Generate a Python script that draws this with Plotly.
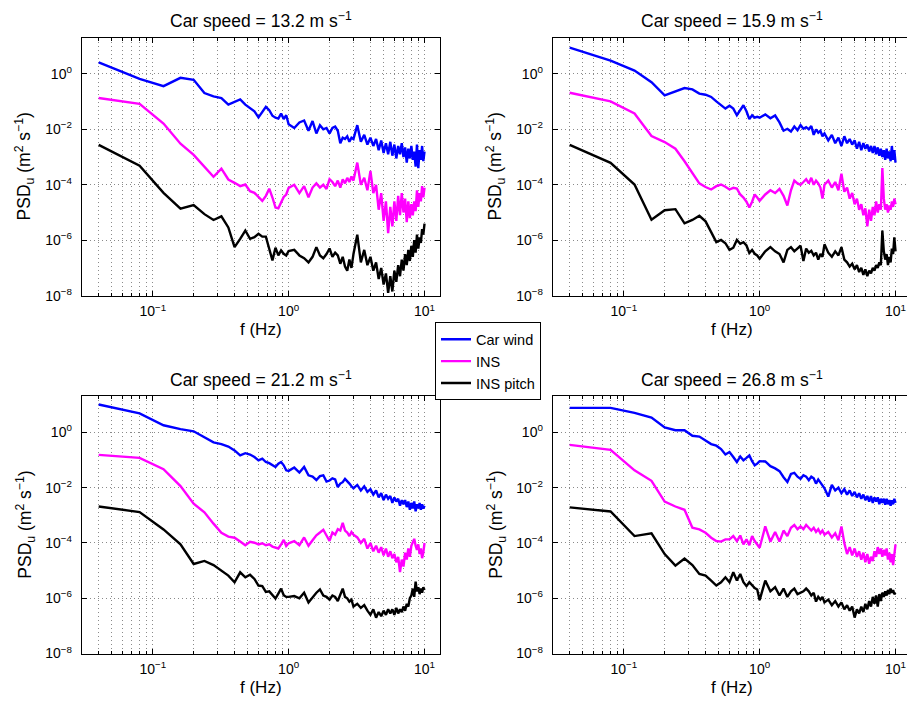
import numpy as np
import plotly.graph_objects as go

# ---------------- data ----------------
freq_hz = [0.04, 0.08, 0.12, 0.16, 0.20, 0.24, 0.28, 0.32, 0.36, 0.40, 0.44, 0.48, 0.52,
           0.56, 0.60, 0.64, 0.68, 0.72, 0.76, 0.80, 0.84, 0.88, 0.92, 0.96, 1.00,
           1.1, 1.2, 1.3, 1.4, 1.5, 1.6, 1.7, 1.8, 1.9, 2.0, 2.1, 2.2, 2.3, 2.4, 2.5,
           2.6, 2.7, 2.8, 2.9, 3.0,
           3.2, 3.4, 3.6, 3.8, 4.0, 4.2, 4.4, 4.6, 4.8, 5.0, 5.2, 5.4, 5.6, 5.8, 6.0,
           6.2, 6.4, 6.6, 6.8, 7.0, 7.2, 7.4, 7.6, 7.8, 8.0, 8.2, 8.4, 8.6, 8.8, 9.0,
           9.2, 9.4, 9.6, 9.8, 10.0]

panel_titles = ["Car speed = 13.2 m s<sup>−1</sup>", "Car speed = 15.9 m s<sup>−1</sup>",
                "Car speed = 21.2 m s<sup>−1</sup>", "Car speed = 26.8 m s<sup>−1</sup>"]
series_names = ["Car wind", "INS", "INS pitch"]
x_label = "f (Hz)"
y_label = "PSD<sub>u</sub> (m<sup>2</sup> s<sup>−1</sup>)"
x_tick_vals = [0.1, 1, 10]
x_tick_text = ["10<sup>−1</sup>", "10<sup>0</sup>", "10<sup>1</sup>"]
x_minor_vals = [0.03, 0.04, 0.05, 0.06, 0.07, 0.08, 0.09, 0.2, 0.3, 0.4, 0.5, 0.6, 0.7,
                0.8, 0.9, 2, 3, 4, 5, 6, 7, 8, 9]
y_tick_vals = [1e-8, 1e-6, 1e-4, 1e-2, 1]
y_tick_text = ["10<sup>−8</sup>", "10<sup>−6</sup>", "10<sup>−4</sup>", "10<sup>−2</sup>", "10<sup>0</sup>"]

# log10 of PSD values
car_13_2_log10 = [0.42, -0.18, -0.44, -0.14, -0.21, -0.69, -0.81, -0.87, -1.11, -1.01, -0.92, -1.11, -1.25,
                  -1.35, -1.57, -1.35, -1.19, -1.31, -1.51, -1.58, -1.61, -1.43, -1.63, -1.49, -1.82,
                  -1.95, -1.75, -1.68, -2.05, -1.70, -2.15, -1.85, -2.00, -1.95, -2.15, -1.95, -1.90, -2.05, -2.50, -2.30,
                  -2.35, -2.25, -2.45, -2.30, -2.35,
                  -1.85, -2.45, -2.20, -2.55, -2.30, -2.60, -2.35, -2.75, -2.40, -2.85, -2.50, -2.90, -2.45, -2.95, -2.55,
                  -3.05, -2.60, -2.90, -2.50, -3.00, -2.65, -3.20, -2.70, -3.05, -2.60, -3.10, -2.80, -3.35, -2.55, -3.40,
                  -2.75, -3.10, -2.60, -3.15, -2.80]
ins_13_2_log10 = [-0.87, -1.08, -1.79, -2.52, -2.92, -3.33, -3.71, -3.42, -3.81, -3.93, -4.05, -3.99, -4.23,
                  -4.29, -4.43, -4.58, -4.40, -4.14, -4.46, -4.82, -4.85, -4.61, -4.44, -4.35, -4.11,
                  -4.00, -4.30, -4.05, -4.45, -4.10, -3.95, -4.10, -4.00, -4.15, -3.80, -3.90, -4.05, -3.85, -4.10, -3.80,
                  -3.95, -3.75, -3.90, -3.70, -3.85,
                  -3.20, -4.00, -3.75, -4.20, -3.50, -4.30, -4.00, -4.90, -4.30, -5.30, -4.60, -5.75, -4.80, -5.50, -4.60,
                  -5.30, -4.40, -5.10, -4.30, -5.00, -4.50, -5.35, -4.60, -5.20, -4.70, -5.10, -4.60, -4.95, -4.20, -4.80,
                  -4.30, -4.60, -4.05, -4.45, -4.10]
pitch_13_2_log10 = [-2.56, -3.31, -4.29, -4.86, -4.73, -5.06, -5.27, -5.14, -5.54, -6.25, -5.95, -5.65, -5.95,
                    -5.89, -5.77, -5.87, -5.87, -6.31, -6.73, -6.27, -6.55, -6.37, -6.49, -6.55, -6.39,
                    -6.35, -6.55, -6.65, -6.80, -6.60, -6.25, -6.55, -6.65, -6.50, -6.30, -6.60, -6.45, -6.55, -6.85, -6.60,
                    -6.95, -7.10, -6.70, -7.00, -6.50,
                    -5.80, -6.80, -6.35, -6.90, -6.60, -7.10, -6.80, -7.40, -7.00, -7.60, -7.20, -7.90, -7.30, -7.85, -7.10,
                    -7.50, -6.90, -7.30, -6.70, -7.10, -6.50, -6.90, -6.35, -6.75, -6.20, -6.60, -6.00, -6.45, -5.80, -6.30,
                    -5.90, -6.10, -5.60, -5.80, -5.40]

car_15_9_log10 = [0.95, 0.48, 0.12, -0.30, -0.77, -0.63, -0.51, -0.56, -0.71, -0.75, -0.83, -0.99, -1.11,
                  -1.25, -1.15, -1.25, -1.49, -1.31, -1.13, -1.35, -1.63, -1.49, -1.58, -1.55, -1.58,
                  -1.46, -1.60, -1.50, -1.75, -2.05, -1.98, -2.08, -1.90, -2.03, -1.85, -1.98, -1.92, -2.00, -1.88, -2.20,
                  -2.00, -2.12, -2.05, -2.25, -2.15,
                  -2.40, -2.20, -2.50, -2.30, -2.60, -2.25, -2.50, -2.35, -2.55, -2.40, -2.70, -2.45, -2.75, -2.50, -2.70,
                  -2.55, -2.80, -2.60, -2.85, -2.60, -2.90, -2.65, -2.95, -2.70, -3.00, -2.75, -3.10, -2.70, -3.05, -2.80,
                  -3.15, -2.60, -3.10, -2.75, -3.20]
ins_15_9_log10 = [-0.68, -0.99, -1.43, -2.24, -2.46, -2.70, -3.15, -3.57, -3.95, -4.08, -4.17, -4.05, -3.99,
                  -4.07, -4.17, -4.11, -4.14, -4.35, -4.46, -4.61, -4.82, -4.61, -4.35, -4.46, -4.58,
                  -4.35, -4.20, -4.30, -4.15, -4.40, -4.75, -4.20, -3.85, -3.95, -4.00, -3.90, -3.80, -3.95, -3.75, -4.00,
                  -3.85, -3.95, -4.10, -4.50, -4.00,
                  -3.85, -4.10, -3.90, -4.20, -3.60, -4.25, -4.10, -4.50, -4.30, -4.70, -4.50, -4.90, -4.70, -5.10, -4.85,
                  -5.50, -4.90, -5.30, -4.80, -5.10, -4.60, -5.00, -4.70, -4.90, -3.40, -4.50, -4.90, -4.70, -5.00, -4.75,
                  -4.90, -4.60, -4.80, -4.50, -4.70]
pitch_15_9_log10 = [-2.56, -3.21, -3.99, -5.26, -4.92, -4.88, -5.39, -5.27, -5.12, -5.32, -5.71, -6.07, -5.99,
                    -6.11, -6.35, -6.27, -5.99, -6.13, -6.07, -6.19, -6.46, -6.35, -6.49, -6.55, -6.67,
                    -6.40, -6.25, -6.40, -6.50, -6.80, -6.35, -6.25, -6.40, -6.30, -6.20, -6.75, -6.30, -6.45, -6.38, -6.55,
                    -6.45, -6.70, -6.50, -6.60, -6.15,
                    -6.45, -6.60, -6.40, -6.55, -6.25, -6.70, -6.80, -6.95, -6.85, -7.05, -6.90, -7.15, -7.00, -7.25, -7.05,
                    -7.30, -7.10, -7.20, -7.00, -7.10, -6.90, -7.00, -6.80, -6.90, -5.65, -6.40, -6.70, -6.50, -6.90, -6.60,
                    -6.80, -6.30, -6.50, -5.90, -6.40]

car_21_2_log10 = [1.01, 0.69, 0.26, 0.12, 0.04, -0.18, -0.36, -0.42, -0.51, -0.65, -0.83, -0.75, -0.80,
                  -0.89, -1.01, -0.95, -1.07, -1.11, -1.19, -1.25, -1.13, -1.07, -1.19, -1.37, -1.39,
                  -1.27, -1.45, -1.25, -1.55, -1.60, -1.72, -1.58, -1.55, -1.78, -1.74, -1.66, -1.70, -1.98, -1.85, -1.80,
                  -1.68, -1.75, -1.85, -1.95, -2.02,
                  -1.90, -2.10, -1.95, -2.15, -2.05, -2.25, -2.10, -2.35, -2.20, -2.45, -2.25, -2.40, -2.30, -2.55, -2.35,
                  -2.50, -2.40, -2.65, -2.45, -2.60, -2.45, -2.70, -2.50, -2.80, -2.55, -2.75, -2.50, -2.85, -2.60, -2.75,
                  -2.55, -2.80, -2.60, -2.75, -2.65]
ins_21_2_log10 = [-0.81, -0.92, -1.33, -1.94, -2.58, -2.89, -3.30, -3.63, -3.77, -3.81, -3.95, -4.08, -3.96,
                  -3.99, -4.05, -4.01, -4.08, -4.05, -4.13, -4.17, -4.20, -4.05, -3.89, -4.11, -4.01,
                  -3.93, -4.08, -3.80, -4.10, -3.90, -3.72, -3.62, -3.52, -3.73, -3.92, -3.62, -3.70, -3.50, -3.55, -3.27,
                  -3.55, -3.62, -3.75, -3.60, -3.70,
                  -3.80, -4.00, -3.85, -4.20, -4.00, -4.30, -4.10, -4.35, -4.15, -4.45, -4.20, -4.50, -4.30, -4.55, -4.40,
                  -4.70, -4.50, -5.05, -4.60, -4.85, -4.35, -4.60, -4.20, -4.50, -4.10, -3.95, -3.85, -4.10, -4.25, -4.05,
                  -4.40, -4.20, -4.55, -4.35, -4.00]
pitch_21_2_log10 = [-2.68, -2.88, -3.51, -4.05, -4.76, -4.65, -4.80, -5.00, -5.18, -5.42, -5.06, -5.24, -5.15,
                    -5.30, -5.54, -5.56, -5.77, -5.75, -5.87, -6.01, -5.83, -5.65, -5.89, -5.95, -5.95,
                    -5.92, -6.00, -5.80, -6.15, -5.95, -5.80, -5.68, -5.90, -5.95, -6.05, -5.90, -5.95, -6.10, -5.85, -5.65,
                    -5.95, -6.00, -6.12, -6.05, -6.30,
                    -6.20, -6.35, -6.25, -6.45, -6.60, -6.40, -6.70, -6.50, -6.65, -6.45, -6.60, -6.40, -6.55, -6.40, -6.60,
                    -6.35, -6.55, -6.40, -6.50, -6.30, -6.45, -6.20, -6.30, -6.00, -5.90, -5.65, -5.95, -5.40, -5.75, -5.60,
                    -5.85, -5.65, -5.80, -5.60, -5.70]

car_26_8_log10 = [0.89, 0.89, 0.71, 0.54, 0.18, 0.08, 0.08, -0.12, -0.15, -0.30, -0.42, -0.48, -0.60,
                  -0.80, -0.71, -0.89, -1.07, -0.87, -1.01, -0.92, -0.83, -1.04, -1.19, -1.13, -1.04,
                  -1.05, -1.22, -1.30, -1.40, -1.62, -1.79, -1.50, -1.46, -1.60, -1.68, -1.55, -1.60, -1.73, -1.60, -1.66,
                  -1.85, -1.70, -1.80, -1.92, -2.02,
                  -2.32, -1.90, -2.10, -2.00, -2.20, -2.05, -2.25, -2.10, -2.30, -2.15, -2.35, -2.20, -2.40, -2.25, -2.45,
                  -2.30, -2.50, -2.30, -2.55, -2.35, -2.50, -2.35, -2.60, -2.40, -2.55, -2.40, -2.62, -2.40, -2.60, -2.45,
                  -2.65, -2.45, -2.60, -2.40, -2.55]
ins_26_8_log10 = [-0.45, -0.63, -1.37, -1.75, -2.50, -2.68, -2.80, -3.45, -3.51, -3.63, -3.81, -3.93, -3.95,
                  -3.87, -3.87, -3.75, -3.93, -3.73, -4.05, -3.87, -4.08, -3.75, -3.93, -4.05, -4.17,
                  -3.40, -3.95, -3.60, -3.95, -3.55, -3.75, -3.45, -3.35, -3.50, -3.40, -3.50, -3.35, -3.45, -3.55, -3.45,
                  -3.60, -3.50, -3.65, -3.55, -3.70,
                  -3.60, -3.80, -3.65, -3.90, -3.40, -4.00, -4.40, -4.15, -4.45, -4.20, -4.50, -4.30, -4.60, -4.35, -4.70,
                  -4.40, -4.75, -4.50, -4.65, -4.30, -4.50, -4.15, -4.40, -4.20, -4.50, -4.25, -4.45, -4.20, -4.60, -4.35,
                  -4.70, -4.40, -4.80, -4.50, -4.05]
pitch_26_8_log10 = [-2.71, -2.86, -3.75, -3.65, -4.40, -4.82, -4.56, -4.80, -5.12, -5.18, -5.36, -5.54, -5.42,
                    -5.24, -5.42, -5.06, -5.36, -5.12, -5.42, -5.56, -5.42, -5.54, -5.63, -5.68, -6.07,
                    -5.36, -5.75, -5.60, -5.90, -5.65, -5.95, -5.75, -5.65, -5.85, -5.80, -5.75, -5.65, -5.75, -5.90, -5.80,
                    -6.12, -5.95, -6.05, -5.95, -6.15,
                    -6.05, -6.25, -6.10, -6.30, -6.15, -6.40, -6.25, -6.45, -6.30, -6.70, -6.40, -6.55, -6.30, -6.50, -6.20,
                    -6.40, -6.10, -6.30, -5.95, -6.20, -5.90, -6.30, -5.85, -6.10, -5.80, -5.95, -5.75, -5.90, -5.70, -5.85,
                    -5.65, -5.80, -5.70, -5.85, -5.80]

series_colors = ["#0000ff", "#ff00ff", "#000000"]

panels = [
    (car_13_2_log10, ins_13_2_log10, pitch_13_2_log10),
    (car_15_9_log10, ins_15_9_log10, pitch_15_9_log10),
    (car_21_2_log10, ins_21_2_log10, pitch_21_2_log10),
    (car_26_8_log10, ins_26_8_log10, pitch_26_8_log10),
]

# ---------------- layout geometry (pixels) ----------------
W, H = 907, 709
FONT = "Liberation Sans, Arial, Helvetica, sans-serif"
col_px = [(81.7, 440.0), (552.7, 907.0)]
row_px = [(38.3, 299.0), (401.0, 661.0)]
px_per_dec = (440.0 - 81.7) / (np.log10(13) - np.log10(0.03))
x0_log = np.log10(0.03)
grid_col = "#8a8a8a"

fig = go.Figure()
layout_axes = {}
annotations = []
for i, series in enumerate(panels):
    r, c = divmod(i, 2)
    n = i + 1
    xa = "x" if n == 1 else f"x{n}"
    ya = "y" if n == 1 else f"y{n}"
    for k, vals in enumerate(series):
        fig.add_trace(go.Scatter(
            x=freq_hz, y=np.power(10.0, np.array(vals)), mode="lines",
            line=dict(color=series_colors[k], width=2.4),
            name=series_names[k], legendgroup=series_names[k], showlegend=(i == 0),
            xaxis=xa, yaxis=ya, hoverinfo="skip"))
    left, right = col_px[c]
    top, bottom = row_px[r]
    x_end = x0_log + (right - left) / px_per_dec
    axis_common = dict(showline=True, linecolor="black", linewidth=1, ticks="inside",
                       tickcolor="black", ticklen=5, zeroline=False,
                       showgrid=True, gridcolor=grid_col, gridwidth=1, griddash="1px,3px",
                       tickfont=dict(family=FONT, size=14, color="black"))
    layout_axes["xaxis" if n == 1 else f"xaxis{n}"] = dict(
        axis_common, type="log", domain=[left / W, right / W], range=[x0_log, x_end],
        anchor=ya, tickvals=x_tick_vals, ticktext=x_tick_text, mirror="ticks",
        ticklabelstandoff=3,
        minor=dict(tickvals=x_minor_vals, ticks="inside", ticklen=3, tickcolor="black",
                   showgrid=True, gridcolor=grid_col, gridwidth=1, griddash="1px,3px"))
    layout_axes["yaxis" if n == 1 else f"yaxis{n}"] = dict(
        axis_common, type="log", domain=[1 - bottom / H, 1 - top / H], range=[-8, np.log10(20)],
        anchor=xa, tickvals=y_tick_vals, ticktext=y_tick_text,
        mirror=("ticks" if c == 0 else False), ticklabelstandoff=6)
    cx_full = (left + (left + 358.3)) / 2.0
    annotations.append(dict(text=panel_titles[i], x=cx_full / W, y=1 - (top - 18) / H,
                            xref="paper", yref="paper", showarrow=False, xanchor="center",
                            yanchor="middle", font=dict(family=FONT, size=17.5, color="black")))
    annotations.append(dict(text=x_label, x=cx_full / W, y=1 - (bottom + 34) / H,
                            xref="paper", yref="paper", showarrow=False, xanchor="center",
                            yanchor="middle", font=dict(family=FONT, size=17, color="black")))
    annotations.append(dict(text=y_label, x=(left - 57) / W, y=1 - ((top + bottom) / 2) / H,
                            xref="paper", yref="paper", showarrow=False, xanchor="center",
                            yanchor="middle", textangle=-90,
                            font=dict(family=FONT, size=17.5, color="black")))

fig.update_layout(
    width=W, height=H, margin=dict(l=0, r=0, t=0, b=0),
    paper_bgcolor="white", plot_bgcolor="white",
    font=dict(family=FONT, color="black"),
    annotations=annotations,
    legend=dict(x=435 / W, y=1 - 326 / H, xanchor="left", yanchor="top",
                bgcolor="white", bordercolor="black", borderwidth=1,
                font=dict(family=FONT, size=14.5, color="black"), tracegroupgap=0),
    **layout_axes,
)

fig.write_html("out.html", config={"displayModeBar": False},
               post_script="document.body.style.margin='0';document.body.style.padding='0';")
